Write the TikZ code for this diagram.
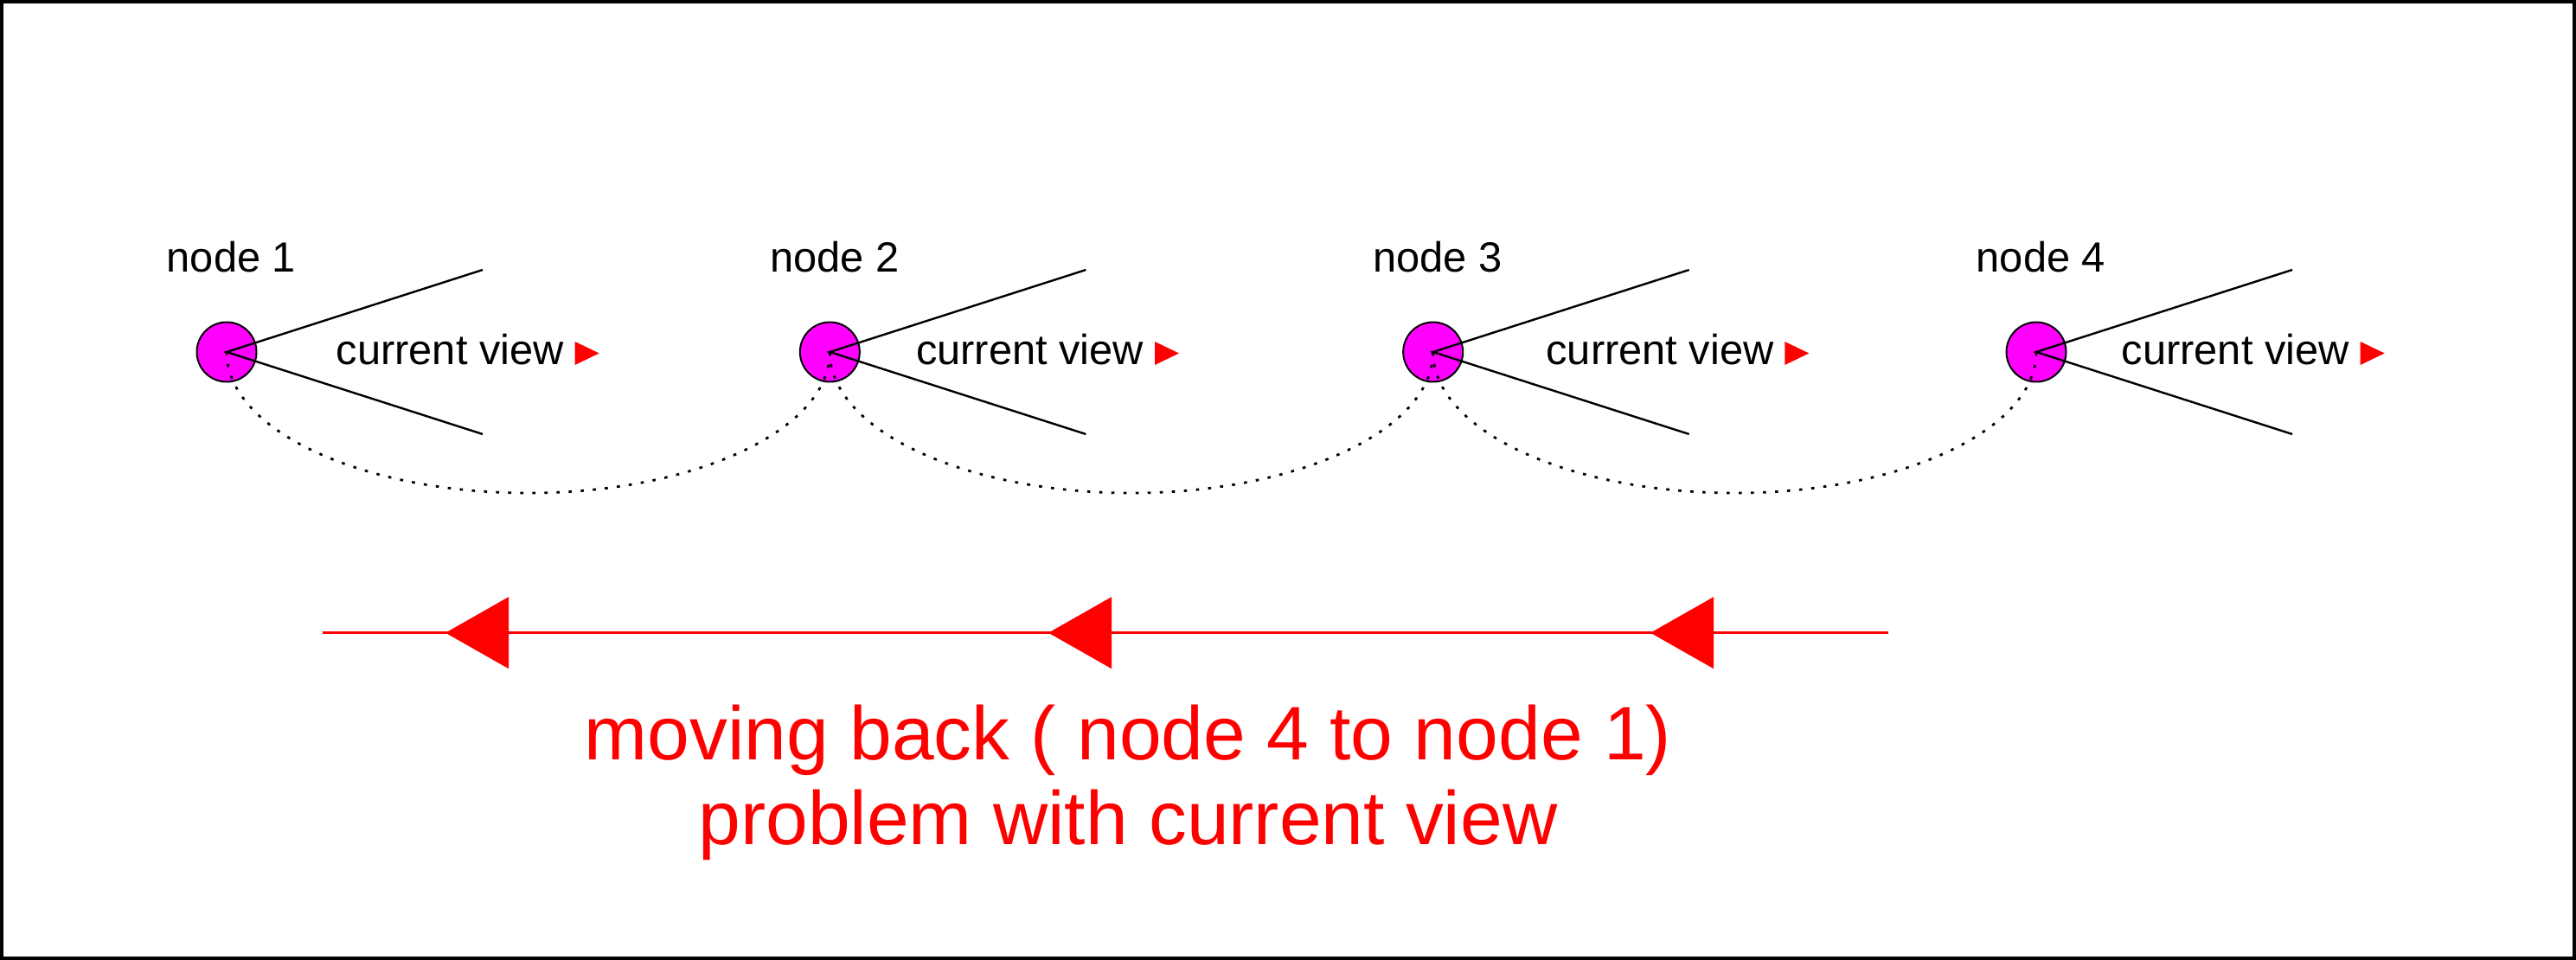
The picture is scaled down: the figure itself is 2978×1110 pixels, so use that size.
\documentclass[tikz,border=0pt]{standalone}
\usepackage{fontspec}
\setmainfont{Liberation Sans}
\definecolor{magfill}{RGB}{255,0,255}
\definecolor{pured}{RGB}{255,0,0}
\begin{document}
\begin{tikzpicture}[x=0.25pt,y=0.25pt,
  pt/.style={circle,draw=black,line width=0.5pt,fill=magfill,minimum size=17.25pt,inner sep=0pt},
  lbl/.style={font=\fontsize{12.2}{14}\selectfont,inner sep=0pt,anchor=base west},
  fan/.style={line width=0.6pt,black},
  dots/.style={line width=0.7pt,dash pattern=on 0.9pt off 2.6pt},
  redline/.style={pured,line width=0.6pt},
  bigtxt/.style={text=pured,font=\fontsize{21.9}{24}\selectfont,inner sep=0pt,anchor=base}]
\useasboundingbox (0,0) rectangle (2978,-1110);
\draw[line width=0.9pt] (2,-2) rectangle (2976,-1108);
% nodes
\foreach \i/\x/\off in {1/262/126,2/959.33/99,3/1656.67/130,4/2354/98}{
  \node[pt] (n\i) at (\x,-407) {};
  \node[lbl] (lab\i) at (\x-70,-315) {node \i};
  \coordinate (fu\i) at (\x+296,-312);
  \coordinate (fd\i) at (\x+296,-502);
  \draw[fan] (fu\i) -- (n\i.center) -- (fd\i);
  \node[lbl] (cv\i) at (\x+\off,-422) {current view};
  \fill[pured] (cv\i.base east) ++(12,0) -- ++(0,27) -- ++(28,-13.5) -- cycle;
}
% dotted arcs
\foreach \i in {1,2,3}{
  \draw[dots] (n\i.center) arc[start angle=180,end angle=360,x radius=87.17pt,y radius=40.75pt];
}
% red arrow line
\coordinate (rs) at (373,-731.7);
\coordinate (re) at (2183,-731.7);
\draw[redline] (re) -- (rs);
\foreach \t/\tx in {1/515,2/1212,3/1908}{
  \coordinate (tip\t) at (\tx,-731.7);
  \fill[pured] (tip\t) -- ++(73,41.5) -- ++(0,-83) -- cycle;
}
% text
\node[bigtxt] (m1) at (1304,-879) {moving back ( node 4 to node 1)};
\node[bigtxt] (m2) at (1304,-976) {problem with current view};
\end{tikzpicture}
\end{document}
